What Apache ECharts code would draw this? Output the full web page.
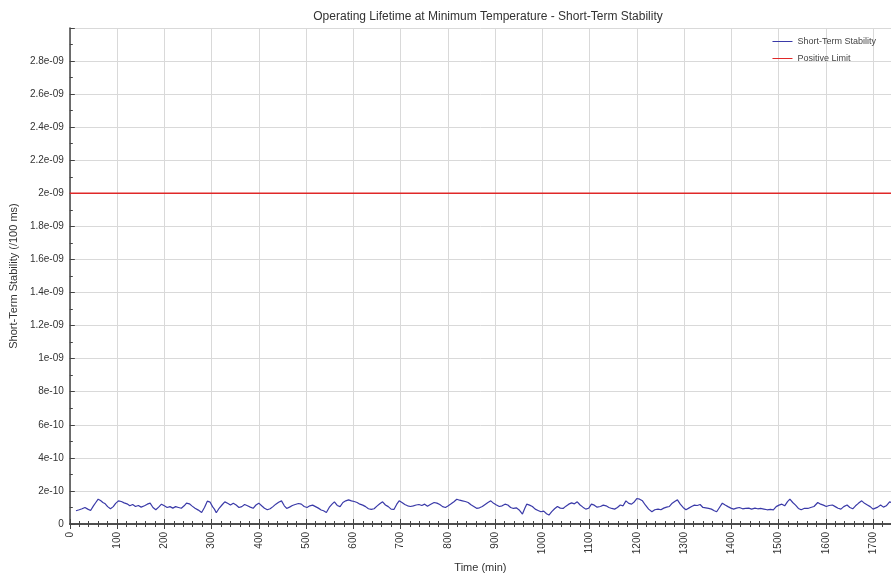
<!DOCTYPE html>
<html>
<head>
<meta charset="utf-8">
<script src="https://cdn.jsdelivr.net/npm/echarts@6/dist/echarts.min.js"></script>
<style>html,body{margin:0;padding:0;background:#fff;}#chart{width:891px;height:579px;}</style>
</head>
<body>
<div id="chart"></div>
<script>
// ---- data ----
const titleText = 'Operating Lifetime at Minimum Temperature - Short-Term Stability';
const xName = 'Time (min)';
const yName = 'Short-Term Stability (/100 ms)';
const seriesNames = ['Short-Term Stability', 'Positive Limit'];
const xMin = 0, xMax = 1738, xStep = 100;
const yMin = 0, yMax = 3e-9, yStep = 2e-10;

const timeMin = [13,20,26,32,38,44,50,55,60,65,70,75,80,86,92,97,103,109,115,121,127,133,139,145,151,158,164,170,176,182,188,194,200,206,212,218,224,230,236,242,247,253,259,265,272,279,285,291,297,302,306,310,316,322,328,334,340,346,352,358,364,370,376,382,388,394,400,406,412,418,424,430,436,442,448,454,459,465,471,477,484,490,496,502,508,514,520,526,532,537,543,549,555,560,566,572,578,584,590,596,602,608,614,620,626,632,638,644,650,656,662,668,674,680,686,692,697,703,709,715,721,727,733,739,745,751,757,763,771,777,783,789,795,801,807,813,819,825,831,837,843,849,855,861,867,873,879,885,891,897,903,909,915,921,927,933,939,945,951,958,963,967,973,979,985,991,997,1003,1009,1014,1020,1026,1032,1038,1044,1050,1056,1062,1068,1074,1080,1086,1092,1098,1104,1110,1116,1123,1129,1135,1141,1147,1153,1159,1165,1171,1177,1183,1189,1195,1200,1206,1212,1218,1225,1232,1238,1245,1251,1257,1263,1269,1275,1281,1286,1292,1298,1304,1310,1316,1322,1328,1334,1340,1346,1352,1358,1364,1369,1375,1381,1387,1393,1399,1405,1411,1417,1424,1430,1437,1443,1450,1456,1462,1469,1476,1483,1489,1495,1501,1507,1513,1519,1524,1530,1536,1542,1548,1555,1562,1568,1575,1583,1589,1595,1601,1607,1614,1620,1626,1632,1638,1645,1651,1657,1663,1669,1676,1682,1688,1694,1700,1704,1710,1716,1722,1728,1735,1738];

const stability = [0.80e-10,0.86e-10,0.92e-10,1.00e-10,0.90e-10,0.82e-10,1.10e-10,1.30e-10,1.50e-10,1.42e-10,1.30e-10,1.22e-10,1.05e-10,0.92e-10,1.05e-10,1.25e-10,1.40e-10,1.36e-10,1.28e-10,1.22e-10,1.10e-10,1.18e-10,1.06e-10,1.12e-10,1.02e-10,1.10e-10,1.20e-10,1.26e-10,1.00e-10,0.86e-10,1.02e-10,1.20e-10,1.10e-10,1.00e-10,1.05e-10,0.96e-10,1.05e-10,1.00e-10,0.95e-10,1.10e-10,1.26e-10,1.22e-10,1.08e-10,0.95e-10,0.84e-10,0.70e-10,1.00e-10,1.38e-10,1.32e-10,1.05e-10,0.90e-10,0.68e-10,0.95e-10,1.15e-10,1.34e-10,1.25e-10,1.15e-10,1.25e-10,1.15e-10,1.00e-10,1.05e-10,1.18e-10,1.10e-10,1.02e-10,0.95e-10,1.15e-10,1.26e-10,1.10e-10,0.95e-10,0.86e-10,0.92e-10,1.05e-10,1.20e-10,1.32e-10,1.40e-10,1.10e-10,0.94e-10,1.02e-10,1.12e-10,1.18e-10,1.24e-10,1.20e-10,1.06e-10,1.00e-10,1.10e-10,1.14e-10,1.05e-10,0.96e-10,0.85e-10,0.80e-10,0.70e-10,1.00e-10,1.20e-10,1.34e-10,1.12e-10,1.05e-10,1.30e-10,1.40e-10,1.46e-10,1.40e-10,1.36e-10,1.30e-10,1.20e-10,1.14e-10,1.05e-10,0.92e-10,0.88e-10,0.92e-10,1.08e-10,1.22e-10,1.34e-10,1.15e-10,1.05e-10,0.90e-10,0.88e-10,1.20e-10,1.40e-10,1.30e-10,1.18e-10,1.10e-10,1.06e-10,1.10e-10,1.15e-10,1.18e-10,1.12e-10,1.20e-10,1.08e-10,1.18e-10,1.30e-10,1.26e-10,1.18e-10,1.05e-10,1.00e-10,1.10e-10,1.22e-10,1.35e-10,1.50e-10,1.44e-10,1.40e-10,1.36e-10,1.30e-10,1.16e-10,1.06e-10,0.95e-10,0.98e-10,1.06e-10,1.18e-10,1.30e-10,1.40e-10,1.25e-10,1.15e-10,1.06e-10,1.10e-10,1.20e-10,1.15e-10,1.00e-10,0.94e-10,0.98e-10,0.85e-10,0.60e-10,0.95e-10,1.20e-10,1.14e-10,1.06e-10,0.90e-10,0.82e-10,0.74e-10,0.78e-10,0.62e-10,0.54e-10,0.75e-10,0.92e-10,1.06e-10,0.96e-10,0.94e-10,1.08e-10,1.20e-10,1.28e-10,1.22e-10,1.34e-10,1.15e-10,1.02e-10,0.90e-10,0.95e-10,1.20e-10,1.14e-10,1.02e-10,1.06e-10,1.14e-10,1.10e-10,1.00e-10,0.94e-10,0.90e-10,1.00e-10,1.15e-10,1.10e-10,1.40e-10,1.25e-10,1.20e-10,1.35e-10,1.54e-10,1.50e-10,1.40e-10,1.15e-10,0.90e-10,0.74e-10,0.86e-10,0.90e-10,0.86e-10,0.96e-10,1.02e-10,1.06e-10,1.26e-10,1.38e-10,1.46e-10,1.20e-10,1.00e-10,0.86e-10,0.96e-10,1.06e-10,1.14e-10,1.12e-10,1.18e-10,1.00e-10,0.98e-10,0.94e-10,0.90e-10,0.80e-10,0.74e-10,1.00e-10,1.26e-10,1.15e-10,1.05e-10,0.96e-10,0.90e-10,0.96e-10,1.00e-10,0.92e-10,0.94e-10,0.96e-10,0.90e-10,0.96e-10,0.92e-10,0.94e-10,0.90e-10,0.86e-10,0.88e-10,0.86e-10,1.05e-10,1.14e-10,1.20e-10,1.10e-10,1.35e-10,1.50e-10,1.30e-10,1.14e-10,0.94e-10,0.86e-10,0.95e-10,0.94e-10,1.00e-10,1.06e-10,1.30e-10,1.20e-10,1.14e-10,1.06e-10,1.12e-10,1.15e-10,1.05e-10,0.95e-10,0.90e-10,1.05e-10,1.15e-10,1.00e-10,0.92e-10,1.10e-10,1.25e-10,1.40e-10,1.25e-10,1.15e-10,1.05e-10,0.90e-10,0.80e-10,1.02e-10,1.15e-10,1.02e-10,1.10e-10,1.34e-10,1.30e-10];

const limitTime = [0, 1738];
const limitValue = [2e-9, 2e-9];

// ---- chart ----
const fontFam = '"Liberation Sans", Arial, sans-serif';
function fmtY(v) {
  if (v === 0) return '0';
  if (v > 2.9e-9) return '';
  let s = Number(v.toPrecision(6)).toExponential();
  return s.replace(/e([+-])(\d)$/, 'e$10$2');
}
function fmtX(v) { return String(Math.round(v)); }
const axisCol = '#444';
const gridCol = '#d9d9d9';
const blue = '#3a3aa8';
const red = '#e02828';

const chart = echarts.init(document.getElementById('chart'));
chart.setOption({
  animation: false,
  backgroundColor: '#fff',
  textStyle: { fontFamily: fontFam },
  title: {
    text: titleText, left: 483, top: 6, textAlign: 'center',
    textStyle: { fontSize: 12, fontWeight: 'normal', color: '#333', fontFamily: fontFam }
  },
  legend: {
    orient: 'vertical', right: 10, top: 32,
    icon: 'rect', itemWidth: 20, itemHeight: 1, itemGap: 8,
    data: [
      { name: seriesNames[0], itemStyle: { color: blue } },
      { name: seriesNames[1], itemStyle: { color: red } }
    ],
    textStyle: { fontSize: 9, color: '#444', fontFamily: fontFam }
  },
  grid: { left: 67, top: 28, right: 0, bottom: 55, containLabel: false },
  xAxis: [{
    type: 'value', min: xMin, max: xMax, interval: xStep,
    name: xName, nameLocation: 'middle', nameGap: 36,
    nameTextStyle: { fontSize: 11, color: '#333' },
    axisLine: { show: true, onZero: false, lineStyle: { color: axisCol, width: 1.5 } },
    axisTick: { show: true, inside: true, length: 5, lineStyle: { color: axisCol } },
    minorTick: { show: true, splitNumber: 5, length: 3, lineStyle: { color: axisCol } },
    axisLabel: { rotate: 90, fontSize: 10, color: '#333', margin: 8, showMaxLabel: false, formatter: fmtX },
    splitLine: { show: true, lineStyle: { color: gridCol, width: 1 } }
  }, {
    type: 'value', position: 'top', min: xMin, max: xMax, interval: xStep,
    axisLine: { show: true, lineStyle: { color: axisCol, width: 1.5 } },
    axisTick: { show: true, inside: true, length: 5, lineStyle: { color: axisCol } },
    minorTick: { show: true, splitNumber: 5, length: 3, lineStyle: { color: axisCol } },
    axisLabel: { show: false },
    splitLine: { show: false }
  }],
  yAxis: {
    type: 'value', min: yMin, max: yMax, interval: yStep,
    name: yName, nameLocation: 'middle', nameGap: 38, nameRotate: 90,
    nameTextStyle: { fontSize: 11, color: '#333' },
    axisLine: { show: true, lineStyle: { color: axisCol, width: 1.5 } },
    axisTick: { show: true, inside: true, length: 5, lineStyle: { color: axisCol } },
    minorTick: { show: true, splitNumber: 2, length: 3, lineStyle: { color: axisCol } },
    axisLabel: { fontSize: 10, color: '#333', margin: 6, formatter: fmtY },
    splitLine: { show: true, lineStyle: { color: gridCol, width: 1 } }
  },
  series: [{
    name: seriesNames[0], type: 'line', showSymbol: false,
    data: timeMin.map((t, i) => [t, stability[i]]),
    lineStyle: { color: blue, width: 1.2 }, itemStyle: { color: blue }
  }, {
    name: seriesNames[1], type: 'line', showSymbol: false,
    data: limitTime.map((t, i) => [t, limitValue[i]]),
    lineStyle: { color: red, width: 1.5 }, itemStyle: { color: red }
  }]
});
</script>
</body>
</html>
